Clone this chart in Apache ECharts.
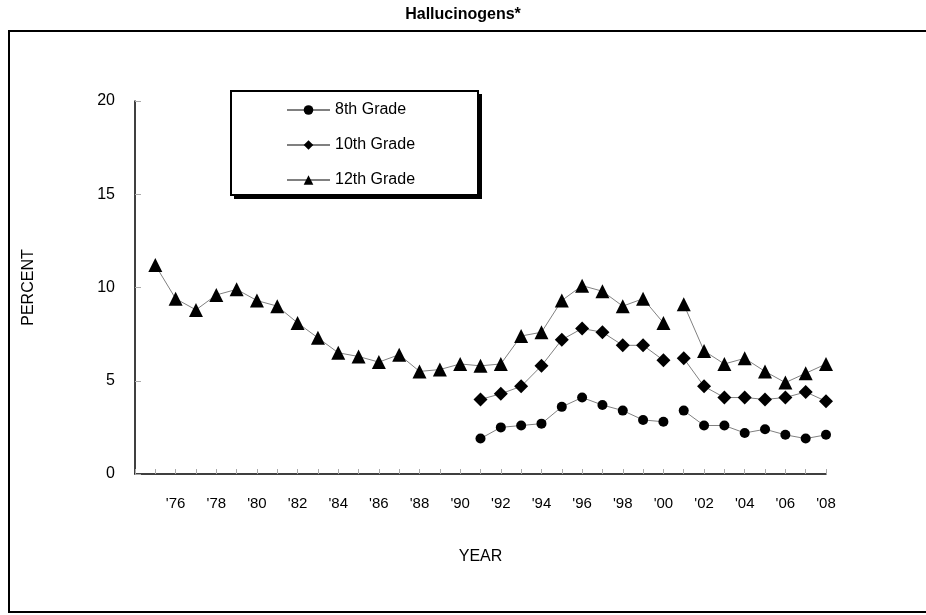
<!DOCTYPE html>
<html>
<head>
<meta charset="utf-8">
<script src="https://cdn.jsdelivr.net/npm/echarts@6/dist/echarts.min.js"></script>
<style>html,body{margin:0;padding:0;background:#fff}#c{width:926px;height:615px}</style>
</head>
<body>
<div id="c"></div>
<script>
const titleText = 'Hallucinogens*';
const years = [1975,1976,1977,1978,1979,1980,1981,1982,1983,1984,1985,1986,1987,1988,1989,1990,1991,1992,1993,1994,1995,1996,1997,1998,1999,2000,2001,2002,2003,2004,2005,2006,2007,2008];
const grade8 = [null,null,null,null,null,null,null,null,null,null,null,null,null,null,null,null,1.9,2.5,2.6,2.7,3.6,4.1,3.7,3.4,2.9,2.8,3.4,2.6,2.6,2.2,2.4,2.1,1.9,2.1];
const grade10 = [null,null,null,null,null,null,null,null,null,null,null,null,null,null,null,null,4.0,4.3,4.7,5.8,7.2,7.8,7.6,6.9,6.9,6.1,6.2,4.7,4.1,4.1,4.0,4.1,4.4,3.9];
const grade12 = [11.2,9.4,8.8,9.6,9.9,9.3,9.0,8.1,7.3,6.5,6.3,6.0,6.4,5.5,5.6,5.9,5.8,5.9,7.4,7.6,9.3,10.1,9.8,9.0,9.4,8.1,9.1,6.6,5.9,6.2,5.5,4.9,5.4,5.9];
const seriesNames = ['8th Grade','10th Grade','12th Grade'];
const breakAfterYear = 2000; // line is broken between 2000 and 2001
const yTicks = [0,5,10,15,20];

function build(vals){
  const out = [];
  years.forEach((y,i)=>{
    if (vals[i] === null) return;
    out.push([y, vals[i]]);
    if (y === breakAfterYear) out.push([y + 0.5, '-']);
  });
  return out;
}

const chart = echarts.init(document.getElementById('c'), null, {renderer:'canvas'});
const lineStyle = {color:'#808080', width:1};
const mk = (name, vals, symbol, size) => ({
  name, type:'line', data: build(vals), symbol, symbolSize: size,
  itemStyle:{color:'#000'}, lineStyle, connectNulls:false, animation:false,
  emphasis:{disabled:true}
});

chart.setOption({
  animation:false,
  title:{text:titleText, left:'center', top:2, textStyle:{fontFamily:'Liberation Sans', fontSize:16, fontWeight:'bold', color:'#000'}},
  grid:{left:135, right:100, top:101, bottom:141},
  graphic:[
    {type:'rect', shape:{x:9, y:31, width:925, height:581}, style:{fill:'none', stroke:'#000', lineWidth:2}, z:-1},
    {type:'rect', shape:{x:234, y:94, width:248, height:105}, style:{fill:'#000'}, z:1},
    {type:'rect', shape:{x:231, y:91, width:247, height:104}, style:{fill:'#fff', stroke:'#000', lineWidth:2}, z:2}
  ],
  legend:{
    orient:'vertical', left:286, top:102, itemWidth:43, itemHeight:12, itemGap:19, z:5,
    padding:[0,0,0,0],
    textStyle:{fontFamily:'Liberation Sans', fontSize:16, color:'#000'},
    data:seriesNames
  },
  xAxis:{
    type:'value', min:1974, max:2008, interval:1,
    name:'YEAR', nameLocation:'middle', nameGap:75,
    nameTextStyle:{fontFamily:'Liberation Sans', fontSize:16, color:'#000'},
    axisLine:{lineStyle:{color:'#000', width:1.5}},
    axisTick:{inside:true, length:5, lineStyle:{color:'#aaa'}},
    splitLine:{show:false},
    axisLabel:{fontFamily:'Liberation Sans', fontSize:15, color:'#000', margin:22,
      formatter:v => (v>1975 && v%2===0) ? "'" + String(v).slice(2) : ''}
  },
  yAxis:{
    type:'value', min:yTicks[0], max:yTicks[yTicks.length-1], interval:5,
    name:'PERCENT', nameLocation:'middle', nameGap:98, nameRotate:90,
    nameTextStyle:{fontFamily:'Liberation Sans', fontSize:16, color:'#000'},
    axisLine:{show:true, lineStyle:{color:'#000', width:1.5}},
    axisTick:{show:true, inside:true, length:6, lineStyle:{color:'#aaa'}},
    splitLine:{show:false},
    axisLabel:{fontFamily:'Liberation Sans', fontSize:16, color:'#000', margin:20}
  },
  series:[
    mk(seriesNames[0], grade8, 'circle', 10),
    mk(seriesNames[1], grade10, 'diamond', 14),
    mk(seriesNames[2], grade12, 'triangle', 14)
  ]
});
</script>
</body>
</html>
